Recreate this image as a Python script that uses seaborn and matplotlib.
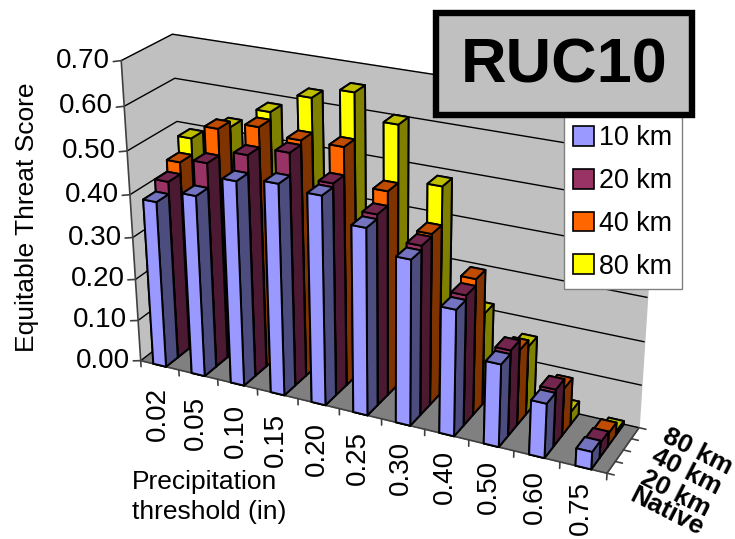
import numpy as np
import matplotlib
matplotlib.use("Agg")
import matplotlib.pyplot as plt
from matplotlib.patches import Patch, Rectangle
from mpl_toolkits.mplot3d import proj3d
import seaborn as sns

thresholds = ["0.02", "0.05", "0.10", "0.15", "0.20", "0.25", "0.30", "0.40", "0.50", "0.60", "0.75"]
rows = ["Native", "20 km", "40 km", "80 km"]
series = ["10 km", "20 km", "40 km", "80 km"]
ets_10 = [0.395, 0.427, 0.478, 0.49, 0.482, 0.43, 0.38, 0.29, 0.19, 0.125, 0.04]
ets_20 = [0.423, 0.483, 0.518, 0.54, 0.49, 0.44, 0.39, 0.30, 0.198, 0.132, 0.035]
ets_40 = [0.45, 0.543, 0.563, 0.55, 0.552, 0.472, 0.396, 0.315, 0.175, 0.11, 0.03]
ets_80 = [0.488, 0.53, 0.58, 0.627, 0.654, 0.60, 0.482, 0.215, 0.16, 0.03, 0.008]
z_ticks = [0.0, 0.1, 0.2, 0.3, 0.4, 0.5, 0.6, 0.7]

front = ["#9999FF", "#993366", "#FF6600", "#FFFF00"]
top = ["#7373BF", "#73264D", "#BF4C00", "#BFBF00"]
side = ["#4C4C7F", "#4C1933", "#7F3300", "#7F7F00"]

W, H = 735, 539
L = 800
axis_col = "#404040"

sns.set_theme(style="white")
plt.rcParams["font.family"] = ["Liberation Sans", "DejaVu Sans"]

fig = plt.figure(figsize=(W / 100, H / 100), dpi=100)

# camera fitted to the corners of the box in the reference
cx, cy = 369.79, 255.30
ax = fig.add_axes([(cx - L / 2) / W, 1 - (cy + L / 2) / H, L / W, L / H], projection="3d")
ax.view_init(elev=24.29, azim=-63.97, roll=0.15)
ax.set_proj_type("persp", focal_length=np.exp(-0.881))
ax.set_box_aspect((1, 0.1816, 0.6407), zoom=0.7703)
ax.computed_zorder = False
ax.patch.set_alpha(0)

n = len(thresholds)
values = [ets_10, ets_20, ets_40, ets_80]

# back row first, left to right, so nearer bars paint over farther ones
order = 3
for j in range(3, -1, -1):
    for i, v in enumerate(values[j]):
        faces = [top[j], top[j], front[j], front[j], side[j], side[j]]
        ax.bar3d(i + 1 / 3, j, 0, 1 / 3, 0.98, v, color=faces, shade=False,
                 edgecolor="black", linewidth=1.4, zorder=order)
        order += 1

ax.set_xlim(0, n, view_margin=0)
ax.set_ylim(0, 4, view_margin=0)
ax.set_zlim(0, 0.7, view_margin=0)
ax.set_xticks([])
ax.set_yticks([])
ax.set_zticks(z_ticks)
ax.set_zticklabels([])
ax.tick_params(axis="z", color=(0, 0, 0, 0))
for axis in [ax.xaxis, ax.yaxis, ax.zaxis]:
    axis.line.set_color((0, 0, 0, 0))
    axis.pane.set_edgecolor("#808080")
ax.xaxis.set_pane_color("#C0C0C0")
ax.yaxis.set_pane_color("#C0C0C0")
ax.zaxis.set_pane_color("#808080")
ax.grid(True)
ax.zaxis._axinfo["grid"].update(color="black", linewidth=1.0)

ax.apply_aspect()
M = ax.get_proj()


def label(x, y, z, text, dx, dy, **kw):
    # 2D text pinned to a projected 3D point, since 3D text ignores rotation
    px, py, _ = proj3d.proj_transform(x, y, z, M)
    ax.annotate(text, xy=(px, py), xycoords="data", xytext=(dx, dy), textcoords="offset pixels",
                color="black", annotation_clip=False, **kw)


ax.plot([0, 0], [0, 0], [0, 0.7], color=axis_col, lw=1.2, zorder=1)
ax.plot([0, n], [0, 0], [0, 0], color=axis_col, lw=1.2, zorder=1)
ax.plot([n, n], [0, 4], [0, 0], color=axis_col, lw=1.2, zorder=1)
for v in z_ticks:
    ax.plot([-0.2, 0], [0, 0], [v - 0.005, v], color=axis_col, lw=1.2, zorder=1)
    label(0, 0, v, f"{v:.2f}", -11, 0, ha="right", va="center", fontsize=20)
for i in range(n + 1):
    ax.plot([i, i], [0, 0], [0, -0.015], color=axis_col, lw=1.2, zorder=1)
for i, lab in enumerate(thresholds):
    label(i + 0.5, 0, 0, lab, -2, -22 + 9 * i / (n - 1), rotation=90, ha="center", va="top", fontsize=20)
for j in range(5):
    ax.plot([n, n + 0.15], [j, j], [0, 0], color=axis_col, lw=1.2, zorder=1)
row_dx = [20, 23, 26, 29]
row_dy = [-26, -21, -10, -2]
for j, lab in enumerate(rows):
    label(n, j + 0.5, 0, lab, row_dx[j], row_dy[j], rotation=-27, rotation_mode="anchor",
          ha="left", va="center", fontsize=19, fontweight="bold")


def fx(x):
    return x / W


def fy(y):
    return 1 - y / H


fig.text(fx(27), fy(217), "Equitable Threat Score", rotation=90, ha="center", va="center", fontsize=19, color="black")
fig.text(fx(132), fy(497), "Precipitation\nthreshold (in)", ha="left", va="center", ma="left", fontsize=19,
         linespacing=1.3, color="black")

handles = [Patch(facecolor=c, edgecolor="black", linewidth=1.2) for c in front]
leg = fig.legend(handles, series, loc="upper left", bbox_to_anchor=(fx(564), fy(116)), fontsize=19.4,
                 frameon=True, fancybox=False, framealpha=1, facecolor="white", edgecolor="#808080",
                 handlelength=0.75, handleheight=0.75, handletextpad=0.2, labelspacing=0.62,
                 borderpad=0.35, borderaxespad=0, labelcolor="black")
leg.get_frame().set_linewidth(1.0)

fig.add_artist(Rectangle((fx(436), fy(115)), (692 - 436) / W, (115 - 13) / H, transform=fig.transFigure,
                         facecolor="#C0C0C0", edgecolor="black", linewidth=4.6, zorder=6))
fig.text(fx(564), fy(66), "RUC10", ha="center", va="center", fontsize=45.4, fontweight="bold", color="black", zorder=7)

fig.savefig("out.png", dpi=100)
